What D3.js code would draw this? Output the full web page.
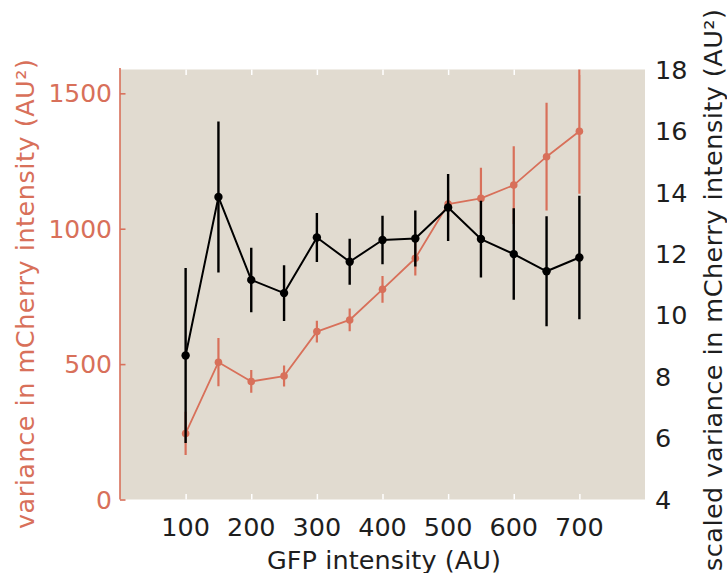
<!DOCTYPE html>
<html>
<head>
<meta charset="utf-8">
<script src="https://cdn.jsdelivr.net/npm/d3@7"></script>
<style>
  html, body { margin: 0; padding: 0; background: #ffffff; }
  svg { display: block; }
  text { font-family: "DejaVu Sans", sans-serif; }
</style>
</head>
<body>
<div id="chart"></div>
<script>
// ---- data ----
const gfp = [100, 150, 200, 250, 300, 350, 400, 450, 500, 550, 600, 650, 700];
const variance = [244, 507, 436, 456, 620, 663, 776, 891, 1091, 1112, 1161, 1266, 1360];
const varianceErr = [80, 89, 42, 39, 40, 42, 49, 64, 50, 113, 144, 199, 231];
const scaledVariance = [8.69, 13.85, 11.15, 10.72, 12.53, 11.74, 12.45, 12.50, 13.51, 12.48, 11.99, 11.43, 11.88];
const scaledErr = [2.85, 2.46, 1.05, 0.91, 0.80, 0.75, 0.79, 0.91, 1.09, 1.25, 1.49, 1.79, 2.01];
const xTicks = [100, 200, 300, 400, 500, 600, 700];
const leftTicks = [0, 500, 1000, 1500];
const rightTicks = [4, 6, 8, 10, 12, 14, 16, 18];

// ---- layout ----
const W = 727, H = 573;
const plot = { left: 120, right: 645, top: 69.5, bottom: 499.5 };
const orange = "#d8705a";
const bg = "#e1dbd0";
const dark = "#1e1e1e";

const x = d3.scaleLinear().domain([0, 800]).range([plot.left, plot.right]);
const yL = d3.scaleLinear().domain([0, 1588]).range([plot.bottom, plot.top]);
const yR = d3.scaleLinear().domain([4, 18]).range([plot.bottom, plot.top]);

const svg = d3.select("#chart").append("svg").attr("width", W).attr("height", H);

svg.append("rect")
  .attr("x", plot.left).attr("y", plot.top)
  .attr("width", plot.right - plot.left).attr("height", plot.bottom - plot.top)
  .attr("fill", bg);

// x ticks (white, inside, bottom and top)
const xAxisB = svg.append("g").attr("transform", `translate(0,${plot.bottom})`)
  .call(d3.axisTop(x).tickValues(xTicks).tickSize(5.5).tickFormat(""));
xAxisB.select(".domain").remove();
xAxisB.selectAll("line").attr("stroke", "#ffffff").attr("stroke-width", 1.5);

const xAxisT = svg.append("g").attr("transform", `translate(0,${plot.top})`)
  .call(d3.axisBottom(x).tickValues(xTicks).tickSize(5.5).tickFormat(""));
xAxisT.select(".domain").remove();
xAxisT.selectAll("line").attr("stroke", "#ffffff").attr("stroke-width", 1.5);

// x tick labels
svg.append("g").selectAll("text").data(xTicks).join("text")
  .attr("x", d => x(d)).attr("y", 536)
  .attr("text-anchor", "middle")
  .attr("font-size", 25.5).attr("fill", dark)
  .text(d => d);

// left axis
const yAxisL = svg.append("g").attr("transform", `translate(${plot.left},0)`)
  .call(d3.axisRight(yL).tickValues(leftTicks).tickSize(5.5).tickSizeOuter(0).tickFormat(""));
yAxisL.select(".domain").attr("stroke", orange).attr("stroke-width", 1.6)
  .attr("d", `M0,${plot.top - 1.5}V${plot.bottom}`);
yAxisL.selectAll("line").attr("stroke", orange).attr("stroke-width", 1.6);

svg.append("g").selectAll("text").data(leftTicks).join("text")
  .attr("x", 112).attr("y", d => yL(d))
  .attr("dy", "0.36em")
  .attr("text-anchor", "end")
  .attr("font-size", 25).attr("fill", orange)
  .text(d => d);

// right axis labels
svg.append("g").selectAll("text").data(rightTicks).join("text")
  .attr("x", 655).attr("y", d => yR(d))
  .attr("dy", "0.36em")
  .attr("text-anchor", "start")
  .attr("font-size", 25.5).attr("fill", dark)
  .text(d => d);

// axis titles
svg.append("text")
  .attr("transform", `translate(33.5,294) rotate(-90)`)
  .attr("text-anchor", "middle")
  .attr("font-size", 25.5).attr("fill", orange)
  .attr("textLength", 470).attr("lengthAdjust", "spacing")
  .text("variance in mCherry intensity (AU²)");

svg.append("text")
  .attr("transform", `translate(722,290) rotate(-90)`)
  .attr("text-anchor", "middle")
  .attr("font-size", 25.5).attr("fill", dark)
  .attr("textLength", 562).attr("lengthAdjust", "spacing")
  .text("scaled variance in mCherry intensity (AU²)");

svg.append("text")
  .attr("x", 384).attr("y", 569)
  .attr("text-anchor", "middle")
  .attr("font-size", 25.5).attr("fill", dark)
  .attr("textLength", 234).attr("lengthAdjust", "spacing")
  .text("GFP intensity (AU)");

// ---- series ----
svg.append("clipPath").attr("id", "plotclip").append("rect")
  .attr("x", plot.left).attr("y", plot.top)
  .attr("width", plot.right - plot.left).attr("height", plot.bottom - plot.top);

const gData = svg.append("g").attr("clip-path", "url(#plotclip)");

function drawSeries(vals, errs, y, color, lw, ew, r) {
  const g = gData.append("g");
  g.selectAll("line.err").data(gfp).join("line")
    .attr("class", "err")
    .attr("x1", d => x(d)).attr("x2", d => x(d))
    .attr("y1", (d, i) => y(vals[i] - errs[i]))
    .attr("y2", (d, i) => y(vals[i] + errs[i]))
    .attr("stroke", color).attr("stroke-width", ew);
  g.append("path")
    .attr("d", d3.line().x((d, i) => x(gfp[i])).y((d, i) => y(vals[i]))(vals))
    .attr("fill", "none").attr("stroke", color).attr("stroke-width", lw)
    .attr("stroke-linejoin", "round");
  g.selectAll("circle").data(gfp).join("circle")
    .attr("cx", d => x(d)).attr("cy", (d, i) => y(vals[i]))
    .attr("r", r).attr("fill", color);
}

drawSeries(variance, varianceErr, yL, orange, 1.8, 2.2, 3.8);
drawSeries(scaledVariance, scaledErr, yR, "#000000", 2, 2.4, 4.2);
</script>
</body>
</html>
